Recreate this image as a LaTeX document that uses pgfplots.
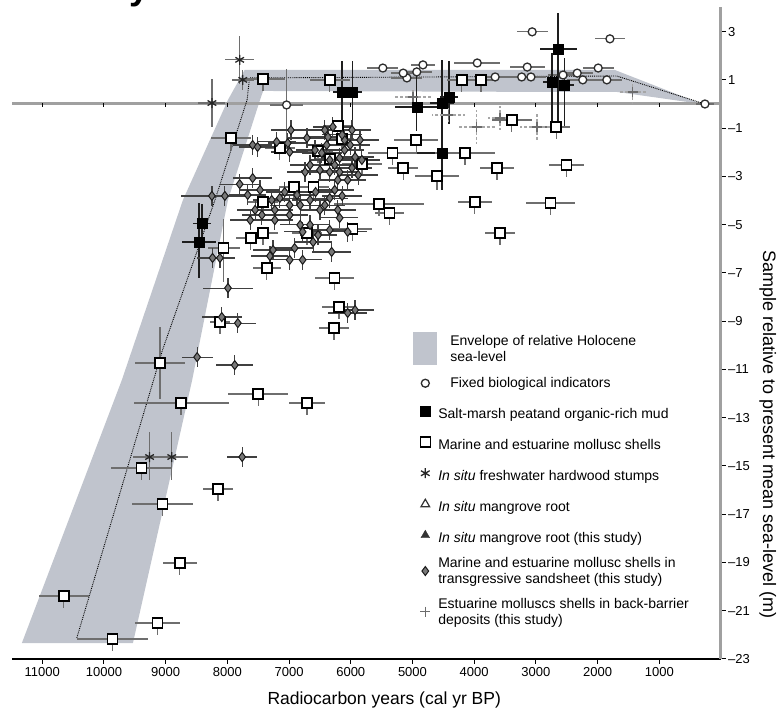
\documentclass[border=0pt]{standalone}
\usepackage{fontspec}
\setmainfont{Liberation Sans}
\usepackage{pgfplots}
\pgfplotsset{compat=1.18}
\definecolor{bandc}{RGB}{192,196,205}
\definecolor{barc}{RGB}{110,110,110}
\definecolor{dkbar}{RGB}{30,30,30}
\definecolor{diafill}{RGB}{120,120,120}
\definecolor{ylinec}{RGB}{160,160,160}
\newcommand\ls{\rule[-7.5pt]{0pt}{24pt}}
\newcommand\lsf{\rule[-7.5pt]{0pt}{18pt}}
\pgfplotsset{
  every axis x label/.style={at={(axis description cs:0.525,0)}, anchor=base, yshift=-46pt},
}
\begin{document}
\begin{tikzpicture}
\begin{axis}[
  at={(0pt,0pt)}, anchor=center,
  scale only axis, width=709pt, height=652pt,
  x dir=reverse,
  xmin=0, xmax=11490, ymin=-23, ymax=4.02,
  axis x line=bottom, axis y line=right,
  axis line style={-},
  x axis line style={black, line width=2pt},
  y axis line style={ylinec, line width=3pt},
  clip=false,
  tick align=outside,
  major tick length=5pt,
  major tick style={black, line width=1pt},
  /pgf/number format/assume math mode=true,
  scaled x ticks=false,
  xtick={1000,2000,...,11000},
  xticklabel style={/pgf/number format/1000 sep={}, font=\fontsize{13}{15}\selectfont},
  ytick={3,1,-1,-3,-5,-7,-9,-11,-13,-15,-17,-19,-21,-23},
  yticklabels={3,1,–1,–3,–5,–7,–9,–11,–13,–15,–17,–19,–21,–23},
  yticklabel style={font=\fontsize{13}{15}\selectfont, inner sep=2pt},
  xlabel={Radiocarbon years (cal yr BP)},
  xlabel style={font=\fontsize{17.5}{20}\selectfont},
  legend style={at={(axis cs:4990,-9.45)}, anchor=north west, draw=none, fill=none,
    font=\fontsize{14}{16}\selectfont, row sep=11pt, inner sep=0pt,
    nodes={align=left, inner sep=1pt}},
  legend cell align=left,
  error bars/error bar style={barc, line width=1.3pt},
]
% envelope
\addplot[fill=bandc, draw=none, area legend,
  legend image code/.code={\fill[bandc] (-3.5pt,-16.5pt) rectangle (20.5pt,16.5pt);}]
  coordinates {(11330,-22.34) (9710,-11.44) (8720,-3.98) (7990,0.17) (7720,1.41)
  (1720,1.41) (310,0.0) (1690,0.50) (2770,0.50) (7420,0.54) (7470,0.17)
  (7990,-3.98) (8570,-11.44) (9530,-22.34) (11330,-22.34)};
\addlegendentry{\hspace*{12pt}Envelope of relative Holocene\\\hspace*{12pt}sea-level}
% zero line
\addplot[ylinec, line width=3pt, forget plot] coordinates {(0,0) (11490,0)};
\addplot[only marks, mark=|, mark size=2pt, mark options={black, line width=1pt, yshift=-1.5pt}, forget plot]
  coordinates {(1000,0) (2000,0) (3000,0) (4000,0) (5000,0) (6000,0) (7000,0) (8000,0) (9000,0) (10000,0) (11000,0)};
% dotted curve
\addplot[black, line width=0.9pt, densely dotted, forget plot]
  coordinates {(10440,-22.13) (9050,-10.19) (8200,-3.98) (7680,0.17) (7640,1.08) (1690,1.16) (260,0)};
% fixed biological indicators
\addplot[only marks, mark=*, mark size=4pt, mark options={fill=white, draw=gray!35!black, line width=1.3pt},
  error bars/.cd, x dir=both, x explicit, y dir=both, y explicit, error mark=none]
  table[x=x, y=y, x error=ex, y error plus=ep, y error minus=em] {
x y ex ep em
3060 2.99 250 0 0
1800 2.70 240 0 0
3950 1.70 370 0 0
3140 1.53 280 0 0
3230 1.12 250 0 0
3080 1.12 250 0 0
3660 1.12 200 0 0
4830 1.62 200 0 0
5090 1.08 250 0 0
4930 1.33 250 0 0
5480 1.49 250 0 0
5150 1.28 200 0 0
2330 1.28 250 0 0
2240 1.00 250 0 0
1990 1.49 250 0 0
1850 1.00 250 0 0
2560 1.20 250 0 0
260 0.00 150 0 0
7040 -0.04 270 1.5 1.5
};
\addlegendentry{\lsf\hspace*{12pt}Fixed biological indicators}
% salt-marsh
\addplot[only marks, mark=square*, mark size=5pt, mark options={fill=black, draw=black},
  error bars/.cd, x dir=both, x explicit, y dir=both, y explicit, error mark=none,
  error bar style={dkbar, line width=1.3pt}]
  table[x=x, y=y, x error=ex, y error plus=ep, y error minus=em] {
x y ex ep em
6140 0.50 150 1.3 1.3
5970 0.50 150 1.3 1.3
4930 -0.12 350 1.6 1.0
4520 0.04 200 1.8 3.6
4410 0.29 150 1.5 1.1
4520 -2.03 500 0.3 0.3
2640 2.28 300 1.5 3.3
2740 0.91 150 1.2 1.6
2540 0.79 150 1.1 1.7
8460 -5.72 280 1.6 1.5
8410 -4.94 150 0.8 0.8
};
\addlegendentry{\ls Salt-marsh peatand organic-rich mud}
% marine and estuarine mollusc shells
\addplot[only marks, mark=square*, mark size=5pt, mark options={fill=white, draw=black, line width=1.5pt},
  error bars/.cd, x dir=both, x explicit, y dir=both, y explicit, error mark=none]
  table[x=x, y=y, x error=ex, y error plus=ep, y error minus=em] {
x y ex ep em
7420 1.04 360 0 0.5
6340 1.00 320 0 0.5
4200 1.00 240 0 0.5
3890 1.00 240 0 0.5
7940 -1.41 320 0 0.5
6210 -0.91 240 0 0.5
6140 -1.45 200 0 0.5
4940 -1.49 360 0 0.5
3390 -0.66 320 0 0.5
2670 -0.95 230 0 0.5
4150 -2.03 490 0 0.5
5320 -2.03 400 0 0.5
5150 -2.65 240 0 0.5
5820 -2.49 320 0 0.5
4600 -2.98 360 0 0.6
3630 -2.65 280 0 0.5
2500 -2.53 280 0 0.5
6340 -2.28 240 0 0.5
6530 -1.95 240 0 0.5
7150 -1.82 240 0 0.5
6600 -3.44 240 0 0.5
6920 -3.44 240 0 0.5
7420 -4.06 240 0 0.5
5540 -4.14 730 0 0.5
5370 -4.52 240 0 0.5
3990 -4.06 280 0 0.5
2760 -4.10 400 0 0.5
3580 -5.35 240 0 0.5
8060 -5.97 260 1.2 1.4
7620 -5.55 240 0 0.5
7420 -5.35 240 0 0.5
6710 -5.35 240 0 0.5
5970 -5.18 320 0 0.5
7360 -6.80 230 0 0.5
6260 -7.21 320 0 0.5
6190 -8.41 280 0 0.5
6270 -9.28 240 0 0.5
8120 -9.03 160 0 0.5
9090 -10.73 400 1.5 1.5
7500 -12.02 490 0 0.5
8750 -12.39 770 0 0.5
6710 -12.39 290 0 0.5
9390 -15.08 490 0 0.5
8150 -15.95 240 0 0.5
9050 -16.58 490 0 0.5
8770 -19.02 280 0 0.5
10650 -20.39 400 0 0.5
9130 -21.51 360 0 0.5
9860 -22.17 570 0 0.5
};
\addlegendentry{\ls Marine and estuarine mollusc shells}
% stumps
\addplot[only marks, mark=asterisk, mark size=5pt, mark options={draw=gray!30!black, line width=1.3pt},
  error bars/.cd, x dir=both, x explicit, y dir=both, y explicit, error mark=none]
  table[x=x, y=y, x error=ex, y error plus=ep, y error minus=em] {
x y ex ep em
8250 0.04 220 1.0 1.0
7800 1.83 230 1.0 1.0
7750 1.00 180 0.4 0.4
9260 -14.63 270 1.04 0.95
8900 -14.63 260 1.04 0.95
};
\addlegendentry{\ls{\itshape In situ} freshwater hardwood stumps}
\addlegendimage{only marks, mark=triangle, mark size=5pt, mark options={draw=gray!40!black, line width=1.2pt}}
\addlegendentry{\ls{\itshape In situ} mangrove root}
\addlegendimage{only marks, mark=triangle*, mark size=5pt, mark options={fill=gray!40!black, draw=gray!40!black}}
\addlegendentry{\ls{\itshape In situ} mangrove root (this study)}
% sandsheet diamonds
\addplot[only marks, mark=diamond*, mark size=4.5pt, mark options={fill=diafill, draw=gray!20!black, line width=1pt},
  error bars/.cd, x dir=both, x explicit, y dir=both, y explicit, error mark=none,
  error bar style={gray!50!black, line width=1.2pt}]
  table[x=x, y=y, x error=ex, y error plus=ep, y error minus=em] {
x y ex ep em
7590 -1.70 320 0.4 0.4
7510 -1.78 300 0.4 0.4
7200 -1.57 320 0.4 0.4
7020 -1.62 320 0.4 0.4
6990 -1.99 300 0.4 0.4
6970 -1.08 320 0.4 0.4
6420 -1.08 300 0.4 0.4
6290 -0.95 320 0.4 0.4
6390 -1.70 300 0.4 0.4
6470 -2.03 320 0.4 0.4
6340 -2.32 300 0.4 0.4
6260 -2.53 320 0.4 0.4
6180 -2.24 300 0.4 0.4
6100 -1.91 320 0.4 0.4
6100 -1.49 300 0.4 0.4
6010 -1.70 320 0.4 0.4
5930 -2.20 300 0.4 0.4
5980 -2.65 320 0.4 0.4
6180 -2.82 300 0.4 0.4
6340 -2.82 320 0.4 0.4
6500 -2.74 300 0.4 0.4
6660 -2.53 320 0.4 0.4
6740 -2.82 300 0.4 0.4
6210 -3.15 320 0.4 0.4
6050 -3.15 300 0.4 0.4
5880 -2.94 320 0.4 0.4
5820 -2.32 300 0.4 0.4
6140 -1.28 320 0.4 0.4
5980 -1.08 300 0.4 0.4
6710 -1.41 320 0.4 0.4
6580 -1.91 300 0.4 0.4
6370 -1.37 320 0.4 0.4
5850 -1.49 300 0.4 0.4
8250 -3.81 500 0.4 0.4
8040 -3.81 320 0.4 0.4
7800 -3.32 320 0.4 0.4
7670 -3.77 300 0.4 0.4
7470 -3.56 320 0.4 0.4
7280 -3.98 300 0.4 0.4
7150 -3.90 320 0.4 0.4
7070 -3.65 300 0.4 0.4
6990 -4.19 320 0.4 0.4
6870 -3.77 300 0.4 0.4
6820 -4.19 320 0.4 0.4
6660 -3.98 300 0.4 0.4
6570 -3.65 320 0.4 0.4
6500 -4.39 300 0.4 0.4
6420 -4.19 320 0.4 0.4
6340 -3.90 300 0.4 0.4
6260 -3.56 320 0.4 0.4
6210 -4.39 300 0.4 0.4
6140 -3.81 320 0.4 0.4
7550 -4.39 300 0.4 0.4
7440 -4.60 320 0.4 0.4
7230 -4.39 300 0.4 0.4
7630 -4.81 320 0.4 0.4
6990 -4.60 300 0.4 0.4
6820 -5.01 320 0.4 0.4
6780 -5.30 300 0.4 0.4
6660 -5.01 320 0.4 0.4
6530 -5.43 300 0.4 0.4
6340 -5.22 320 0.4 0.4
6180 -4.72 300 0.4 0.4
6050 -5.30 320 0.4 0.4
7230 -4.81 300 0.4 0.4
7590 -3.07 320 0.4 0.4
7260 -6.05 320 0.4 0.4
7310 -6.30 300 0.4 0.4
6910 -5.97 320 0.4 0.4
6990 -6.46 300 0.4 0.4
6780 -6.46 320 0.4 0.4
6610 -5.72 300 0.4 0.4
6310 -6.13 320 0.4 0.4
8240 -6.38 250 0.4 0.4
8120 -6.38 250 0.4 0.4
7990 -7.63 400 0.4 0.4
8090 -8.83 320 0.4 0.4
7830 -9.08 300 0.4 0.4
6050 -8.66 320 0.4 0.4
5930 -8.54 300 0.4 0.4
8490 -10.49 250 0.4 0.4
7880 -10.82 300 0.4 0.4
7760 -14.63 240 0.4 0.4
};
\addlegendentry{Marine and estuarine mollusc shells in\\transgressive sandsheet (this study)}
% back-barrier
\addplot[only marks, mark=+, mark size=5pt, mark options={draw=gray!85!black, line width=1.3pt},
  error bars/.cd, x dir=both, x explicit, y dir=both, y explicit, error mark=none,
  error bar style={gray!70, line width=1.3pt, densely dashed}]
  table[x=x, y=y, x error=ex, y error plus=ep, y error minus=em] {
x y ex ep em
1430 0.50 220 0.5 0.5
2980 -0.95 280 0.6 0.6
3960 -0.95 300 0.7 0.7
3580 -0.58 200 0.5 0.5
4420 -0.46 270 0.3 0.3
4990 0.29 300 0.3 0.3
};
\addlegendentry{Estuarine molluscs shells in back-barrier\\deposits (this study)}
\node[anchor=base, font=\bfseries\fontsize{36}{36}\selectfont] at (axis cs:9420,4.31) {y};
\node[anchor=base, rotate=-90, font=\fontsize{18}{20}\selectfont] at (axis cs:-681,-13.68)
  {Sample relative to present mean sea-level (m)};
\end{axis}
\pgfresetboundingbox
\path (-366.5pt,-375pt) rectangle (412.5pt,333pt);
\end{tikzpicture}
\end{document}
